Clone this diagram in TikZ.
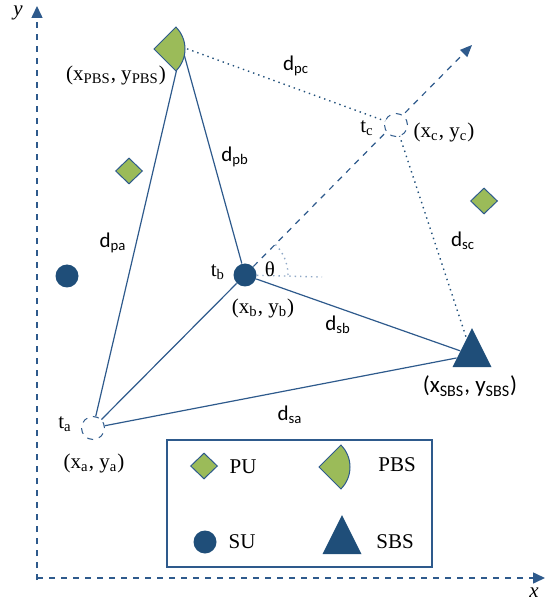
\documentclass[tikz,border=0pt]{standalone}
\usepackage{fontspec}
\usepackage{xcolor}
\setmainfont{Liberation Serif}
\newfontfamily\dfont{Carlito}
\usetikzlibrary{arrows.meta,shapes.geometric}
\definecolor{sublue}{HTML}{1F4E79}
\definecolor{lineblue}{HTML}{2E5A8C}
\definecolor{pugreen}{HTML}{9BBB59}
\definecolor{anglegray}{HTML}{8FA8C6}

\begin{document}
\begin{tikzpicture}[
  x=0.5pt, y=-0.5pt,
  font=\fontsize{10.5}{12}\selectfont,
  su/.style={circle, fill=sublue, minimum size=11.5pt, inner sep=0pt},
  target/.style={circle, draw=lineblue, dashed, fill=white, line width=0.5pt, minimum size=11.5pt, inner sep=0pt},
  pu/.style={diamond, draw=lineblue, fill=pugreen, line width=0.5pt, minimum width=13.5pt, minimum height=13pt, inner sep=0pt},
  sbs/.style={isosceles triangle, shape border rotate=90, isosceles triangle stretches, fill=sublue, minimum width=19.5pt, minimum height=19.5pt, inner sep=0pt},
  pbsshape/.style={draw=lineblue, fill=pugreen, line width=0.5pt},
  link/.style={lineblue, line width=0.6pt},
  distline/.style={sublue, dotted, line width=0.7pt},
  angleline/.style={anglegray, dotted, line width=0.7pt},
  dirarrow/.style={lineblue, dashed, line width=0.6pt, -{Triangle[length=6pt, width=5pt]}},
  axis/.style={lineblue, dashed, line width=0.75pt, -{Triangle[length=6pt, width=5.5pt]}},
  dlabel/.style={font=\dfont\fontsize{10.5}{12}\selectfont}
]
\useasboundingbox (0,0) rectangle (553,603);

\coordinate (origin) at (37,578);
\coordinate (yend) at (37,6);
\coordinate (xend) at (545,578);
\draw[axis] (37,580) -- (yend);
\draw[axis] (origin) -- (xend);
\node (ylabel) at (18,13) {\textit{y}};
\node (xlabel) at (534,593) {\textit{x}};

\coordinate (pbs) at (182,47);
\coordinate (pbsc) at (154,49);
\coordinate (dirend) at (472,45);
\coordinate (thetaref) at (322,277);

\node[su] (tb) at (245,275) {};
\node[target] (ta) at (93,428) {};
\node[sbs] (sbs) at (472,355) {};
\node[su] (su) at (67,276) {};
\node[pu] (pu1) at (129,171) {};
\node[pu] (pu2) at (484,201) {};

\draw[angleline] (tb) -- (thetaref);
\draw[angleline] (tb.center) ++(0:43) arc[start angle=0, end angle=-45, radius=43];
\draw[distline] (pbs) -- (396,125);
\draw[distline] (396,125) -- (sbs);
\draw[dirarrow] (tb) -- (dirend);
\node[target] (tc) at (396,125) {};

\draw[link] (pbs) -- (ta);
\draw[link] (pbs) -- (tb);
\draw[link] (ta) -- (tb);
\draw[link] (tb) -- (sbs);
\draw[link] (ta) -- (sbs);
\filldraw[pbsshape] (pbsc) -- +(-45:31) arc[start angle=-45, end angle=45, radius=31] -- cycle;

\node (pbslabel) at (116,75) {(x\textsubscript{PBS}, y\textsubscript{PBS})};
\node[dlabel] (dpc) at (296,66) {d\textsubscript{pc}};
\node (tclabel) at (367,128) {t\textsubscript{c}};
\node (tcpos) at (444,132) {(x\textsubscript{c}, y\textsubscript{c})};
\node[dlabel] (dpb) at (235,157) {d\textsubscript{pb}};
\node[dlabel] (dpa) at (113,243) {d\textsubscript{pa}};
\node[dlabel] (dsc) at (463,241) {d\textsubscript{sc}};
\node (tblabel) at (218,272) {t\textsubscript{b}};
\node (theta) at (270,269) {θ};
\node (tbpos) at (263,308) {(x\textsubscript{b}, y\textsubscript{b})};
\node[dlabel] (dsb) at (338,325) {d\textsubscript{sb}};
\node[dlabel, font=\dfont\fontsize{11.5}{13}\selectfont] (sbspos) at (470,386) {(x\textsubscript{SBS}, y\textsubscript{SBS})};
\node[dlabel] (dsa) at (290,415) {d\textsubscript{sa}};
\node (talabel) at (65,424) {t\textsubscript{a}};
\node (tapos) at (94,463) {(x\textsubscript{a}, y\textsubscript{a})};

\node[draw=lineblue, line width=0.6pt, minimum width=132.5pt, minimum height=63.5pt, inner sep=0pt] (legend) at (299.5,503.5) {};
\node[pu] (legpu) at (204,466) {};
\node (legputext) at (243,467) {PU};
\coordinate (legpbs) at (319,467);
\filldraw[pbsshape] (legpbs) -- +(-45:31) arc[start angle=-45, end angle=45, radius=31] -- cycle;
\node (legpbstext) at (397,465) {PBS};
\node[su] (legsu) at (205,542) {};
\node (legsutext) at (242,542) {SU};
\node[sbs] (legsbs) at (342,542) {};
\node (legsbstext) at (395,542) {SBS};
\end{tikzpicture}
\end{document}
